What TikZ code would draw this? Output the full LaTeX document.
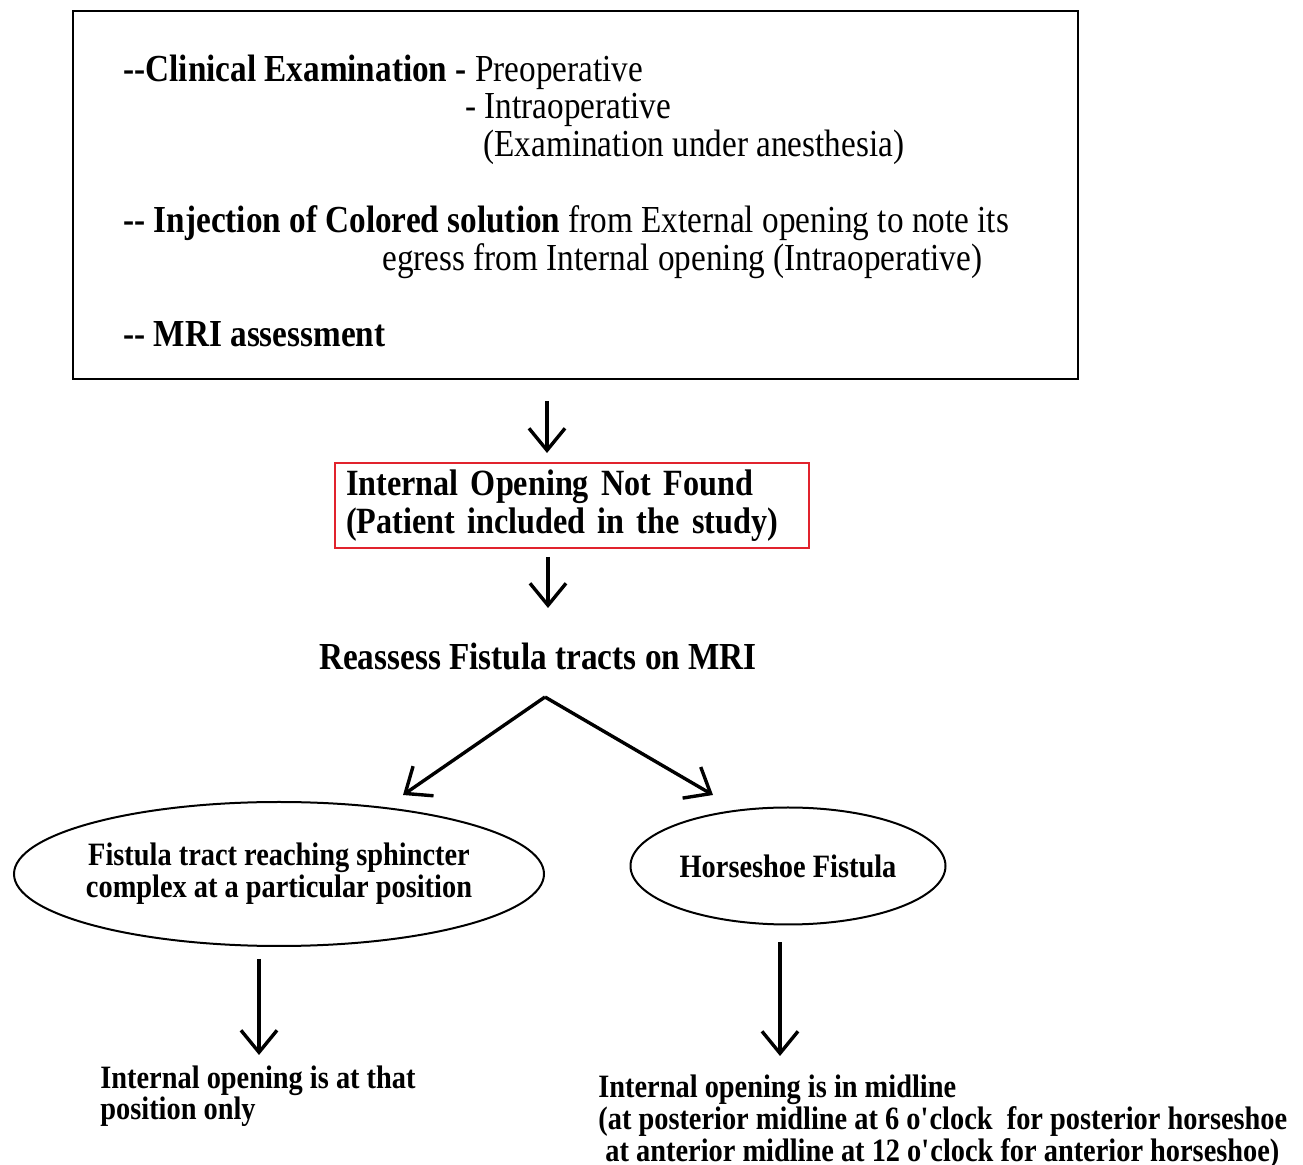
\documentclass[tikz,border=0pt]{standalone}
\usepackage{fontspec}
\setmainfont{Liberation Serif}[FakeStretch=0.87]
\usetikzlibrary{arrows.meta,shapes.geometric}

\tikzset{
  arr/.style={-{Straight Barb[length=11pt,width=18pt]}, line width=1.7pt},
  big/.style={font=\fontsize{19.1}{19}\selectfont},
  small/.style={font=\fontsize{16.3}{16}\selectfont\bfseries},
  txt/.style={anchor=base west, inner sep=0pt, big},
  oval/.style={ellipse, draw, line width=1pt, small, align=center, inner xsep=-4pt, inner ysep=0pt},
}
\definecolor{boxred}{RGB}{225,35,45}

\begin{document}
\begin{tikzpicture}[x=0.5pt, y=-0.5pt]
\useasboundingbox (0,0) rectangle (1303,1165);

% examination box
\node[draw, line width=1pt, minimum width=502.5pt, minimum height=184pt, inner sep=0pt] (exam) at (575.5,195) {};
\node[txt] (clin) at (123,82) {\textbf{{-}{-}Clinical Examination -} Preoperative};
\node[txt] (intra) at (465,119) {- Intraoperative};
\node[txt] (eua) at (483,157) {(Examination under anesthesia)};
\node[txt] (inj) at (123,233) {\textbf{{-}{-} Injection of Colored solution} from External opening to note its};
\node[txt] (egress) at (382,271) {egress from Internal opening (Intraoperative)};
\node[txt] (mri) at (123,347) {\textbf{{-}{-} MRI assessment}};

\node[draw=boxred, line width=1pt, minimum width=237pt, minimum height=41.5pt, text width=226pt, inner xsep=5.5pt, align=left, font=\fontsize{18.5}{19}\selectfont\bfseries] (found) at (572,505.5) {Internal Opening Not Found\\(Patient included in the study)};
\node[anchor=base, inner sep=0pt, font=\fontsize{19.1}{19}\selectfont\bfseries] (reassess) at (538,670) {Reassess Fistula tracts on MRI};

\node[oval, minimum width=265pt, minimum height=72pt] (tract) at (279,874) {Fistula tract reaching sphincter\\complex at a particular position};
\node[oval, minimum width=157.5pt, minimum height=58.5pt] (horse) at (788,866) {Horseshoe Fistula};

% anchor base = baseline of the last line
\node[anchor=base west, inner sep=0pt, small, align=left] (pos) at (100,1120) {Internal opening is at that\\position only};
\node[anchor=base west, inner sep=0pt, small, align=left] (mid) at (598,1161) {Internal opening is in midline\\(at posterior midline at 6 o\textquotesingle clock\ \ for posterior horseshoe\\\ at anterior midline at 12 o\textquotesingle clock for anterior horseshoe)};

% arrows
\coordinate (c1) at (547,0);
\coordinate (c2) at (548,608);
\coordinate (split) at (545,697);
\coordinate (lt) at (403,795);
\coordinate (rt) at (713,795);
\coordinate (c3) at (259,1055);
\coordinate (c4) at (780,1056);
\draw[arr] ([yshift=-10.5pt]exam.south -| c1) -- ([yshift=4.5pt]found.north -| c1);
\draw[arr] ([yshift=-4pt]found.south -| c2) -- (c2);
\draw[arr] (split) -- (lt);
\draw[arr] (split) -- (rt);
\draw[arr] ([yshift=-6pt]tract.south -| c3) -- (c3);
\draw[arr] ([yshift=-8.5pt]horse.south -| c4) -- (c4);
\end{tikzpicture}
\end{document}
